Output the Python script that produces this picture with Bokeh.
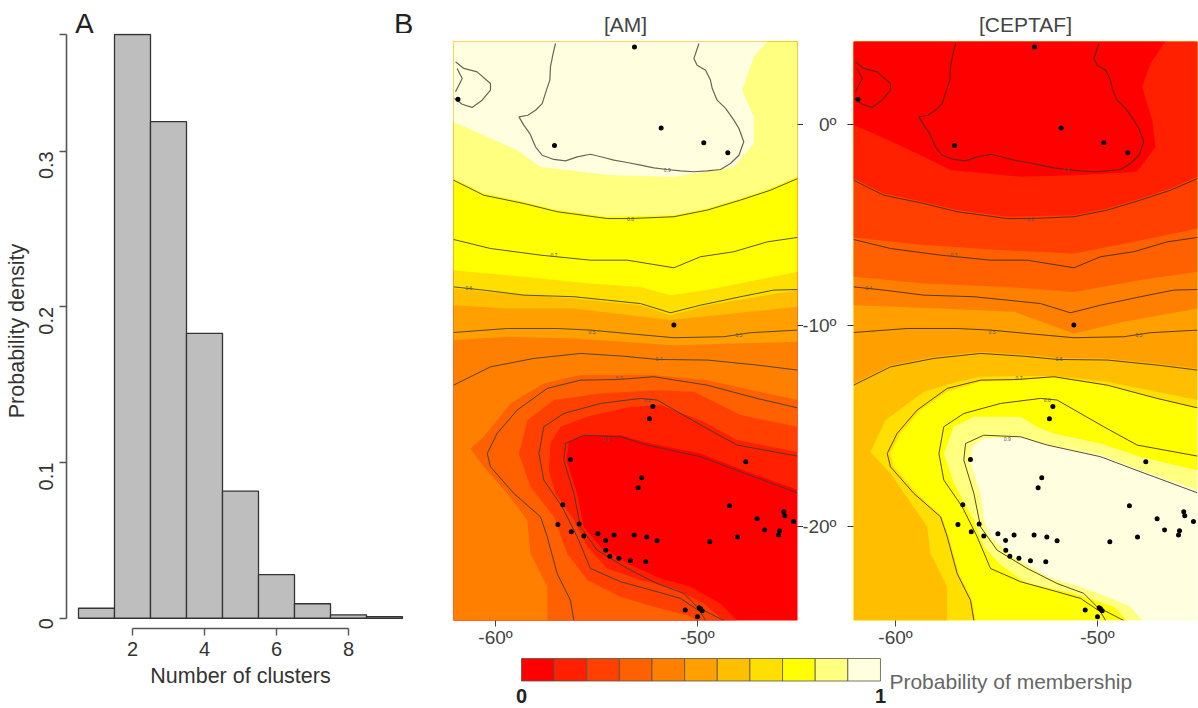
from math import pi
from bokeh.plotting import figure
from bokeh.layouts import row, column
from bokeh.models import Range1d, FixedTicker
from bokeh.core.properties import value
from bokeh.embed import file_html
from bokeh.resources import INLINE

FONT = "Liberation Sans"

# ---------- histogram data ----------
BIN_LEFT = [0.5, 1.5, 2.5, 3.5, 4.5, 5.5, 6.5, 7.5, 8.5]
BIN_RIGHT = [1.5, 2.5, 3.5, 4.5, 5.5, 6.5, 7.5, 8.5, 9.5]
DENSITY = [0.0064, 0.375, 0.319, 0.183, 0.0816, 0.028, 0.0093, 0.0022, 0.001]
HIST_XTICKS = [2, 4, 6, 8]
HIST_YTICKS = [0, 0.1, 0.2, 0.3, 0.375]

# ---------- map extent and sites ----------
WEST, EAST, SOUTH, NORTH = -62.08, -45.05, -24.68, 4.13
LON_TICKS = [-60, -50]
LAT_TICKS = [0, -10, -20]
LAT_TEXT = ["0\u00ba", "-10\u00ba", "-20\u00ba"]
PANEL_LETTERS = ["A", "B"]
SITE_LON = [-53.12, -61.86, -51.80, -57.08, -49.69, -48.50, -51.17, -52.21, -52.38, -56.29, -52.76, -52.94,
            -47.61, -56.67, -48.42, -45.73, -45.68, -47.05, -45.25, -56.91, -55.86, -56.25, -55.63, -54.93,
            -54.13, -53.14, -52.51, -52.00, -54.55, -49.39, -48.02, -46.68, -45.94, -45.99, -54.54, -54.34,
            -53.89, -53.32, -52.56, -50.61, -49.92, -49.77, -50.00, -49.85]
SITE_LAT = [3.86, 1.26, -0.17, -1.04, -0.91, -1.41, -9.98, -14.03, -14.64, -16.67, -17.58, -18.08,
            -16.78, -18.92, -18.97, -19.27, -19.47, -19.62, -19.75, -19.90, -19.88, -20.27, -20.48, -20.36,
            -20.43, -20.43, -20.53, -20.71, -20.70, -20.76, -20.53, -20.18, -20.22, -20.43, -21.18, -21.48,
            -21.58, -21.71, -21.76, -24.16, -24.05, -24.20, -24.49, -24.10]

# ---------- contour lines (membership of AM) ----------
L9_LON = [-57.03, -57.15, -57.28, -57.31, -57.48, -57.69, -58.02, -58.40, -58.84, -58.60, -58.30, -58.02, -57.69,
          -57.11, -56.53, -55.96, -55.30, -54.64, -54.14, -53.48, -52.82, -52.16, -51.50, -50.84, -50.18, -49.52,
          -48.86, -48.37, -47.95, -47.71, -47.95, -48.20, -48.61, -49.03, -49.27, -49.36, -49.60, -50.02, -50.18, -49.93]
L9_LAT = [4.03, 3.53, 2.87, 2.21, 1.71, 1.04, 0.71, 0.46, 0.38, -0.03, -0.45, -1.11, -1.53,
          -1.74, -1.81, -1.61, -1.48, -1.64, -1.77, -1.89, -2.02, -2.16, -2.24, -2.31, -2.35, -2.31,
          -2.24, -1.94, -1.53, -0.86, -0.20, 0.22, 0.80, 1.21, 1.79, 2.21, 2.70, 2.95, 3.28, 4.03]
ISLE_A_LON = [-61.98, -61.57, -60.91, -60.25, -60.25, -60.66, -61.16, -61.65, -62.03]
ISLE_A_LAT = [3.12, 2.79, 2.62, 2.04, 1.71, 1.21, 0.85, 1.01, 1.29]
ISLE_B_LON = [-61.98, -61.65, -61.90]
ISLE_B_LAT = [1.63, 2.29, 2.79]
L8_LON = [-62.08, -60.58, -58.60, -56.95, -54.47, -53.32, -51.17, -49.52, -47.87, -46.39, -45.05]
L8_LAT = [-2.77, -3.52, -3.93, -4.34, -4.68, -4.68, -4.59, -4.26, -3.76, -3.27, -2.69]
L7_LON = [-62.08, -60.25, -57.77, -55.30, -53.48, -51.17, -49.85, -48.20, -46.55, -45.05]
L7_LAT = [-5.72, -6.17, -6.50, -6.75, -6.75, -7.13, -6.58, -6.33, -5.84, -5.62]
L6_LON = [-62.08, -60.58, -58.60, -56.12, -54.47, -52.82, -51.34, -49.85, -47.87, -46.22, -45.05]
L6_LAT = [-8.08, -8.24, -8.49, -8.57, -8.74, -8.91, -9.37, -8.99, -8.57, -8.24, -8.21]
L5_LON = [-62.08, -59.42, -56.95, -55.30, -53.48, -51.17, -48.70, -47.38, -45.05]
L5_LAT = [-10.35, -10.15, -10.15, -10.23, -10.40, -10.61, -10.56, -10.36, -10.23]
L4_LON = [-62.08, -60.25, -58.10, -55.79, -53.65, -52.00, -49.52, -47.05, -45.05]
L4_LAT = [-12.97, -12.06, -11.64, -11.39, -11.53, -11.69, -11.72, -11.97, -12.22]
L3_LON = [-45.05, -47.05, -49.52, -52.16, -53.98, -55.79, -57.44, -58.93, -59.92, -60.41, -60.25, -59.09, -57.77,
          -57.44, -56.95, -56.29, -56.12]
L3_LAT = [-14.10, -13.63, -12.97, -12.55, -12.69, -12.72, -13.13, -14.21, -15.37, -16.37, -17.03, -18.36, -19.52,
          -20.51, -22.34, -23.67, -24.68]
L2_LON = [-45.05, -48.04, -49.69, -52.00, -52.82, -54.80, -56.62, -57.61, -57.85, -57.61, -56.70, -55.96, -55.30,
          -53.81, -52.00, -50.84, -49.85, -49.60]
L2_LAT = [-16.50, -15.95, -15.04, -13.71, -13.63, -13.88, -14.38, -15.04, -16.37, -17.69, -19.02, -20.51, -22.09,
          -22.75, -23.25, -23.58, -24.25, -24.68]
L1_LON = [-45.05, -47.87, -49.85, -52.49, -53.81, -55.63, -56.53, -56.62, -56.12, -55.79, -54.97, -53.48, -52.00,
          -50.68, -50.02, -48.70]
L1_LAT = [-18.33, -17.28, -16.53, -15.95, -15.54, -15.46, -15.87, -16.70, -18.36, -20.02, -21.18, -22.09, -22.84,
          -23.33, -24.00, -24.68]
LABEL_LON = [-51.50, -53.32, -57.11, -61.32, -55.22, -47.95, -51.91, -53.89, -52.49, -54.47]
LABEL_LAT = [-2.24, -4.68, -6.50, -8.16, -10.31, -10.48, -11.69, -12.63, -13.71, -15.63]
AM_LABELS = ["0.9", "0.8", "0.7", "0.6", "0.5", "0.5", "0.4", "0.3", "0.2", "0.1"]
CEPTAF_LABELS = ["0.1", "0.2", "0.3", "0.4", "0.5", "0.5", "0.6", "0.7", "0.8", "0.9"]

# ---------- colour classes ----------
CLASS_COLORS = ["#FF0000", "#FF2000", "#FF4000", "#FF6000", "#FF8000", "#FF9F00",
                "#FFBF00", "#FFDF00", "#FFFF00", "#FFFF80", "#FFFFE0"]
CLASS_EDGES = [i / 11 for i in range(12)]

# ---------- class boundaries, AM panel ----------
A1_X = [-45.05, -47.87, -49.85, -52.49, -53.81, -55.63, -56.37, -56.49, -55.96, -55.63, -54.80, -53.32, -51.83, -50.35, -48.86, -48.04]
A1_Y = [-18.19, -17.15, -16.37, -15.84, -15.46, -15.46, -15.79, -16.70, -18.36, -20.02, -21.01, -21.92, -22.59, -23.00, -23.83, -24.68]
A2_X = [-45.05, -48.04, -49.69, -51.83, -53.48, -55.46, -56.78, -57.28, -57.36, -57.03, -56.12, -55.46, -54.47, -52.82, -51.17, -49.69, -48.70]
A2_Y = [-16.29, -15.70, -14.79, -13.96, -14.08, -14.54, -15.04, -15.87, -17.20, -18.36, -19.68, -21.01, -22.09, -22.67, -23.08, -23.83, -24.68]
A3_X = [-45.05, -47.87, -50.18, -52.16, -54.80, -57.11, -58.43, -58.84, -58.27, -57.11, -56.45, -55.46, -53.81, -52.16, -50.51, -50.02]
A3_Y = [-15.04, -14.46, -13.30, -13.22, -13.38, -13.71, -14.71, -16.37, -18.03, -19.52, -21.34, -22.67, -23.50, -24.00, -24.41, -24.68]
A4_X = [-45.05, -49.52, -52.16, -53.98, -55.79, -57.61, -59.26, -60.58, -61.24, -60.58, -59.42, -58.43, -58.27, -57.44, -57.44]
A4_Y = [-13.71, -12.72, -12.47, -12.47, -12.47, -12.89, -13.88, -15.54, -16.12, -17.03, -18.36, -19.68, -21.34, -23.00, -24.68]
A5_X = [-45.05, -51.17, -56.12, -59.42, -62.08]
A5_Y = [-10.81, -10.98, -10.65, -10.56, -10.73]
A6_X = [-45.05, -51.34, -56.12, -59.42, -62.08]
A6_Y = [-9.07, -9.73, -9.15, -9.15, -8.99]
A7_X = [-45.05, -49.52, -51.34, -52.82, -56.12, -59.42, -62.08]
A7_Y = [-8.24, -8.99, -9.49, -8.99, -8.66, -8.41, -8.16]
A8_X = [-45.05, -47.05, -49.52, -51.34, -52.82, -55.30, -58.60, -62.08]
A8_Y = [-7.33, -7.74, -8.24, -8.49, -8.08, -7.91, -7.58, -7.25]
A9_X = [-45.05, -46.39, -47.87, -49.52, -51.17, -54.47, -56.95, -58.60, -60.58, -62.08]
A9_Y = [-2.60, -3.18, -3.68, -4.18, -4.51, -4.59, -4.26, -3.85, -3.43, -2.69]
A10_X = [-46.55, -47.21, -47.79, -47.21, -47.21, -48.20, -51.17, -54.31, -57.77, -58.93, -62.08]
A10_Y = [4.13, 3.37, 1.71, 0.38, -0.95, -2.11, -2.60, -2.52, -2.11, -1.28, 0.13]

# ---------- class boundaries, CEPTAF panel ----------
C9_X = [-45.05, -47.87, -49.85, -52.49, -53.81, -55.63, -56.20, -56.29, -55.79, -55.63, -55.30, -54.14, -52.49, -50.84, -49.52, -48.37, -47.79]
C9_Y = [-18.19, -17.20, -16.45, -15.95, -15.57, -15.62, -16.04, -16.87, -18.36, -19.68, -20.51, -21.51, -22.50, -23.00, -23.50, -24.00, -24.68]
C8_X = [-45.05, -47.87, -49.85, -52.16, -52.99, -53.81, -56.12, -57.11, -57.61, -57.11, -56.12, -55.63, -54.80, -53.48, -51.17, -49.19, -48.53]
C8_Y = [-17.20, -16.53, -15.87, -15.37, -15.04, -14.54, -14.54, -15.04, -16.37, -17.86, -19.68, -21.01, -21.92, -22.84, -23.33, -24.00, -24.68]
C7_X = [-45.05, -47.05, -49.52, -52.16, -53.98, -55.79, -57.44, -58.76, -59.75, -60.25, -60.08, -58.93, -57.69, -57.36, -56.87, -56.20, -56.04]
C7_Y = [-14.13, -13.63, -12.97, -12.59, -12.72, -12.80, -13.30, -14.21, -15.37, -16.37, -17.03, -18.36, -19.52, -20.51, -22.34, -23.67, -24.68]
C6_X = [-45.05, -49.52, -52.16, -54.14, -55.79, -56.95, -58.60, -60.50, -61.24, -60.25, -58.43, -58.27, -57.44, -57.44]
C6_Y = [-13.71, -12.80, -12.52, -12.52, -12.55, -12.80, -13.30, -14.71, -16.29, -17.36, -20.02, -21.34, -23.00, -24.68]
C5_X = [-45.05, -47.05, -49.52, -52.00, -53.65, -55.79, -58.10, -60.25, -62.08]
C5_Y = [-12.14, -11.89, -11.64, -11.61, -11.45, -11.31, -11.56, -11.98, -12.89]
C4_X = [-45.05, -48.70, -51.17, -54.14, -57.77, -62.08]
C4_Y = [-9.15, -9.82, -10.40, -9.32, -9.15, -8.99]
C3_X = [-45.05, -47.87, -51.17, -54.47, -58.60, -62.08]
C3_Y = [-7.33, -7.74, -8.33, -8.08, -7.91, -7.58]
C2_X = [-45.05, -48.20, -51.17, -54.80, -58.60, -62.08]
C2_Y = [-5.17, -5.84, -6.42, -6.25, -6.00, -5.62]
C1_X = [-45.05, -46.39, -47.87, -49.52, -51.17, -54.47, -56.95, -58.60, -60.58, -62.08]
C1_Y = [-2.60, -3.18, -3.68, -4.18, -4.51, -4.59, -4.26, -3.85, -3.43, -2.69]
C0_X = [-46.64, -47.38, -47.79, -47.29, -47.13, -48.04, -51.17, -53.81, -57.28, -58.93, -61.07, -62.08]
C0_Y = [4.13, 3.03, 1.87, 0.22, -1.11, -2.35, -2.52, -2.60, -2.27, -1.44, -0.45, -0.03]


def region(xs, ys):
    """Everything north/west of a class boundary, closed along the map edge."""
    px, py = list(xs), list(ys)
    if py[-1] <= SOUTH:
        px.append(WEST); py.append(SOUTH)
    px.append(WEST); py.append(NORTH)
    if px[0] >= EAST:
        px.append(EAST); py.append(NORTH)
    return px, py


def map_panel(title, base_color, bounds, labels, w, left, right, line_color, coast_color, tick_side):
    p = figure(width=w, height=653, x_range=Range1d(WEST, EAST), y_range=Range1d(SOUTH, NORTH),
               output_backend="svg", toolbar_location=None, title=title, y_axis_location=tick_side,
               min_border_left=left, min_border_right=right, min_border_top=41, min_border_bottom=33,
               background_fill_color=base_color)
    p.outline_line_color = None
    p.grid.visible = False
    p.title.align = "center"
    p.title.text_font = FONT
    p.title.text_font_size = "21px"
    p.title.text_font_style = "normal"
    p.title.text_color = "#444444"
    p.title.standoff = 11
    for (xs, ys), col in bounds:
        px, py = region(xs, ys)
        p.patch(px, py, fill_color=col, line_color=None)
    for xs, ys in [(L8_LON, L8_LAT), (L7_LON, L7_LAT), (L6_LON, L6_LAT), (L5_LON, L5_LAT), (L4_LON, L4_LAT),
                   (L3_LON, L3_LAT), (L2_LON, L2_LAT), (L1_LON, L1_LAT)]:
        p.line(xs, ys, line_color=line_color, line_width=1, line_alpha=0.85)
    for xs, ys in [(L9_LON, L9_LAT), (ISLE_A_LON, ISLE_A_LAT), (ISLE_B_LON, ISLE_B_LAT)]:
        p.line(xs, ys, line_color=coast_color, line_width=1.2)
    p.text(LABEL_LON, LABEL_LAT, text=labels, text_font=value(FONT), text_font_size="5px",
           text_color="#555555", text_align="center", text_baseline="middle")
    p.scatter(SITE_LON, SITE_LAT, size=5, fill_color="#000000", line_color=None)

    p.xaxis.ticker = FixedTicker(ticks=LON_TICKS)
    p.xaxis.major_label_overrides = {t: f"{t}\u00ba" for t in LON_TICKS}
    p.xaxis.axis_line_color = None
    p.xaxis.major_tick_line_color = "#444444"
    p.xaxis.major_tick_in = 0
    p.xaxis.major_tick_out = 6
    p.xaxis.minor_tick_line_color = None
    p.xaxis.major_label_standoff = 0
    p.xaxis.major_label_text_font = FONT
    p.xaxis.major_label_text_font_size = "19px"
    p.xaxis.major_label_text_color = "#444444"

    p.yaxis.ticker = FixedTicker(ticks=LAT_TICKS)
    p.yaxis.major_label_overrides = {t: "" for t in LAT_TICKS}
    p.yaxis.axis_line_color = None
    p.yaxis.major_tick_line_color = "#333333"
    p.yaxis.major_tick_in = 0
    p.yaxis.major_tick_out = 6
    p.yaxis.minor_tick_line_color = None
    p.yaxis.major_label_standoff = 0
    return p


# ---------- header with the panel letters ----------
header = figure(width=445, height=33, x_range=Range1d(0, 445), y_range=Range1d(0, 33),
                output_backend="svg", toolbar_location=None,
                min_border_left=0, min_border_right=0, min_border_top=0, min_border_bottom=0)
header.outline_line_color = None
header.grid.visible = False
header.axis.visible = False
header.text([23, 431], [10, 10], text=PANEL_LETTERS, text_font=value(FONT), text_font_size="29px",
            text_color="#222222", text_align="center", text_baseline="middle")

# ---------- panel A ----------
hist = figure(width=445, height=675, x_range=Range1d(0.1667, 9.833), y_range=Range1d(-0.0066, 0.37564),
              output_backend="svg", toolbar_location=None,
              min_border_left=66, min_border_right=31, min_border_top=0, min_border_bottom=80)
hist.outline_line_color = None
hist.grid.visible = False
hist.quad(left=BIN_LEFT, right=BIN_RIGHT, bottom=0, top=DENSITY, fill_color="#BEBEBE",
          line_color="#333333", line_width=1.3)
hist.xaxis.ticker = FixedTicker(ticks=HIST_XTICKS)
hist.xaxis.bounds = (2, 8)
hist.yaxis.ticker = FixedTicker(ticks=HIST_YTICKS)
hist.yaxis.bounds = (0, 0.375)
hist.yaxis.major_label_overrides = {0: "0", 0.1: "0.1", 0.2: "0.2", 0.3: "0.3", 0.375: ""}
hist.yaxis.major_label_orientation = pi / 2
hist.xaxis.axis_label = "Number of clusters"
hist.yaxis.axis_label = "Probability density"
for ax in (hist.xaxis, hist.yaxis):
    ax.axis_line_color = "#555555"
    ax.axis_line_width = 1.6
    ax.major_tick_line_color = "#555555"
    ax.major_tick_line_width = 1.4
    ax.major_tick_in = 0
    ax.major_tick_out = 7
    ax.minor_tick_line_color = None
    ax.major_label_text_font = FONT
    ax.major_label_text_font_size = "20px"
    ax.major_label_text_color = "#333333"
    ax.axis_label_text_font = FONT
    ax.axis_label_text_font_size = "21.5px"
    ax.axis_label_text_font_style = "normal"
    ax.axis_label_text_color = "#333333"
hist.xaxis.major_label_standoff = 6
hist.xaxis.axis_label_standoff = 5
hist.yaxis.major_label_standoff = 13
hist.yaxis.axis_label_standoff = 1

# ---------- panel B ----------
am_bounds = [((A1_X, A1_Y), CLASS_COLORS[1]), ((A2_X, A2_Y), CLASS_COLORS[2]), ((A3_X, A3_Y), CLASS_COLORS[3]),
             ((A4_X, A4_Y), CLASS_COLORS[4]), ((A5_X, A5_Y), CLASS_COLORS[5]), ((A6_X, A6_Y), CLASS_COLORS[6]),
             ((A7_X, A7_Y), CLASS_COLORS[7]), ((A8_X, A8_Y), CLASS_COLORS[8]), ((A9_X, A9_Y), CLASS_COLORS[9]),
             ((A10_X, A10_Y), CLASS_COLORS[10])]
cep_bounds = [((C9_X, C9_Y), CLASS_COLORS[9]), ((C8_X, C8_Y), CLASS_COLORS[8]), ((C7_X, C7_Y), CLASS_COLORS[7]),
              ((C6_X, C6_Y), CLASS_COLORS[6]), ((C5_X, C5_Y), CLASS_COLORS[5]), ((C4_X, C4_Y), CLASS_COLORS[4]),
              ((C3_X, C3_Y), CLASS_COLORS[3]), ((C2_X, C2_Y), CLASS_COLORS[2]), ((C1_X, C1_Y), CLASS_COLORS[1]),
              ((C0_X, C0_Y), CLASS_COLORS[0])]

am = map_panel("[AM]", CLASS_COLORS[0], am_bounds, AM_LABELS, 358, 8, 6, "#3a3a2a", "#666655", "right")
cep = map_panel("[CEPTAF]", CLASS_COLORS[10], cep_bounds, CEPTAF_LABELS, 351, 6, 1, "#402a10", "#702010", "left")

# gutter between the maps: the shared latitude labels
gutter = figure(width=44, height=653, x_range=Range1d(0, 1), y_range=Range1d(SOUTH, NORTH),
                output_backend="svg", toolbar_location=None,
                min_border_left=0, min_border_right=0, min_border_top=41, min_border_bottom=33)
gutter.outline_line_color = None
gutter.grid.visible = False
gutter.axis.visible = False
gutter.text([0.75] * 3, LAT_TICKS, text=LAT_TEXT, text_font=value(FONT), text_font_size="19px",
            text_color="#444444", text_align="right", text_baseline="middle")

# ---------- colour key ----------
key = figure(width=753, height=55, x_range=Range1d(-0.2117, 1.886), y_range=Range1d(-1.222, 1.222),
             output_backend="svg", toolbar_location=None,
             min_border_left=0, min_border_right=0, min_border_top=0, min_border_bottom=0)
key.outline_line_color = None
key.grid.visible = False
key.axis.visible = False
key.quad(left=CLASS_EDGES[:-1], right=CLASS_EDGES[1:], bottom=0, top=1, fill_color=CLASS_COLORS,
         line_color="#555544", line_width=1, line_alpha=0.8)
key.text([0, 1], [-0.667, -0.667], text=["0", "1"], text_font=value(FONT), text_font_size="20px",
         text_font_style="bold", text_color="#222222", text_align="center", text_baseline="middle")
key.text([1.025], [0.0], text=["Probability of membership"], text_font=value(FONT), text_font_size="21px",
         text_color="#666666", text_align="left", text_baseline="middle")

root = row(column(header, hist), column(row(am, gutter, cep), key))
open("out.html", "w").write(file_html(root, INLINE))
